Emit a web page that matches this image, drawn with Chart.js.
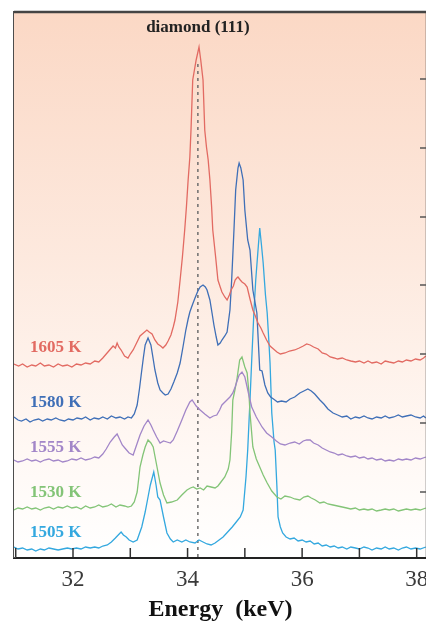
<!DOCTYPE html>
<html>
<head>
<meta charset="utf-8">
<script src="https://cdn.jsdelivr.net/npm/chart.js@4.4.1/dist/chart.umd.min.js"></script>
<style>
  html, body { margin: 0; padding: 0; background: #ffffff; overflow: hidden; }
  #wrap { width: 426px; height: 624px; overflow: hidden; position: relative; }
  canvas { display: block; }
</style>
</head>
<body>
<div id="wrap"><canvas id="c" width="440" height="624" style="width:440px;height:624px"></canvas></div>
<script>
// ---- Data: [energy keV, intensity (offset, arb. units)] ----
const s1605 = [[30.97,193],[31.05,191],[31.12,193],[31.2,190],[31.28,192],[31.35,191],[31.43,194],[31.5,191],[31.58,192],[31.66,190],[31.74,193],[31.82,191],[31.9,192],[31.98,190],[32.06,193],[32.14,192],[32.22,194],[32.3,193],[32.38,196],[32.45,195],[32.52,199],[32.58,203],[32.64,207],[32.7,211],[32.74,209],[32.77,214],[32.8,210],[32.84,207],[32.9,201],[32.96,199],[33.0,203],[33.05,207],[33.11,214],[33.17,221],[33.23,224],[33.29,227],[33.33,225],[33.38,223],[33.43,217],[33.48,213],[33.53,211],[33.57,209],[33.62,212],[33.66,216],[33.71,222],[33.75,230],[33.78,237],[33.83,255],[33.87,277],[33.91,300],[33.95,327],[33.98,350],[34.01,377],[34.04,400],[34.06,427],[34.09,477],[34.15,497],[34.20,510],[34.23,497],[34.27,477],[34.30,427],[34.33,410],[34.36,397],[34.39,377],[34.42,350],[34.44,327],[34.49,300],[34.53,277],[34.57,270],[34.60,265],[34.65,260],[34.69,257],[34.73,262],[34.76,267],[34.80,271],[34.83,277],[34.86,279],[34.88,280],[34.92,277],[34.95,275],[35.0,273],[35.04,270],[35.09,258],[35.14,247],[35.19,240],[35.23,234],[35.28,229],[35.32,224],[35.38,217],[35.44,211],[35.5,208],[35.56,205],[35.62,203],[35.7,204],[35.78,206],[35.87,207],[35.95,209],[36.02,211],[36.08,213],[36.14,212],[36.2,210],[36.28,208],[36.35,204],[36.42,203],[36.49,200],[36.56,199],[36.62,198],[36.7,199],[36.78,197],[36.85,196],[36.93,195],[37.0,196],[37.08,194],[37.15,196],[37.22,194],[37.3,195],[37.38,193],[37.45,196],[37.52,195],[37.6,194],[37.68,196],[37.75,195],[37.82,197],[37.9,196],[37.98,198],[38.06,197],[38.12,199],[38.16,201]];

const s1580 = [[30.97,140],[31.04,137],[31.1,136],[31.18,138],[31.25,135],[31.32,137],[31.4,138],[31.47,136],[31.55,138],[31.62,137],[31.7,139],[31.77,137],[31.85,136],[31.92,138],[32.0,137],[32.07,139],[32.15,138],[32.22,140],[32.3,137],[32.37,139],[32.45,138],[32.52,140],[32.6,138],[32.67,141],[32.75,139],[32.82,140],[32.9,138],[32.96,140],[33.02,139],[33.07,143],[33.12,152],[33.16,168],[33.19,182],[33.23,200],[33.26,212],[33.31,219],[33.36,212],[33.4,198],[33.43,187],[33.48,174],[33.52,167],[33.57,164],[33.61,162],[33.66,163],[33.71,168],[33.76,175],[33.82,184],[33.87,194],[33.92,210],[33.97,227],[34.01,238],[34.04,245],[34.09,253],[34.13,259],[34.18,266],[34.22,270],[34.27,272],[34.31,270],[34.34,267],[34.39,257],[34.43,243],[34.46,232],[34.5,220],[34.53,212],[34.57,214],[34.60,217],[34.65,221],[34.69,225],[34.74,247],[34.77,277],[34.81,327],[34.84,367],[34.88,389],[34.90,394],[34.93,389],[34.97,377],[35.00,347],[35.05,317],[35.09,307],[35.14,267],[35.21,244],[35.26,187],[35.30,186],[35.35,172],[35.40,164],[35.45,160],[35.5,158],[35.57,155],[35.64,156],[35.72,155],[35.79,158],[35.87,160],[35.96,164],[36.03,166],[36.1,168],[36.16,166],[36.22,163],[36.31,157],[36.38,153],[36.45,148],[36.54,144],[36.62,142],[36.7,140],[36.78,141],[36.85,138],[36.93,140],[37.0,139],[37.08,141],[37.15,139],[37.22,138],[37.3,140],[37.38,139],[37.45,141],[37.52,139],[37.6,140],[37.68,142],[37.75,140],[37.82,141],[37.9,142],[37.98,140],[38.06,139],[38.12,141],[38.16,139]];

const s1555 = [[30.97,97],[31.04,95],[31.12,96],[31.2,98],[31.28,96],[31.35,97],[31.43,95],[31.5,97],[31.58,98],[31.66,96],[31.74,97],[31.82,95],[31.9,96],[31.98,98],[32.06,97],[32.14,99],[32.22,97],[32.3,98],[32.38,100],[32.45,99],[32.52,103],[32.58,108],[32.65,115],[32.72,120],[32.77,123],[32.82,117],[32.86,112],[32.92,108],[32.98,104],[33.05,102],[33.11,112],[33.17,122],[33.24,131],[33.31,137],[33.36,132],[33.40,127],[33.46,120],[33.52,114],[33.58,116],[33.64,115],[33.7,114],[33.75,117],[33.82,126],[33.90,137],[33.97,147],[34.04,155],[34.08,157],[34.15,151],[34.22,147],[34.3,143],[34.39,139],[34.45,141],[34.51,142],[34.56,147],[34.60,152],[34.67,156],[34.74,160],[34.79,164],[34.83,170],[34.87,177],[34.90,182],[34.95,185],[35.0,180],[35.02,175],[35.07,162],[35.12,150],[35.2,140],[35.30,130],[35.38,124],[35.47,120],[35.55,116],[35.62,113],[35.7,112],[35.79,114],[35.87,115],[35.95,113],[36.02,116],[36.08,117],[36.14,117],[36.2,114],[36.28,112],[36.35,109],[36.42,107],[36.49,105],[36.56,104],[36.63,102],[36.7,103],[36.78,101],[36.85,100],[36.93,101],[37.0,99],[37.08,100],[37.15,98],[37.22,99],[37.3,97],[37.38,98],[37.45,96],[37.52,97],[37.6,96],[37.68,98],[37.75,97],[37.82,98],[37.9,97],[37.98,99],[38.06,98],[38.16,100]];

const s1530 = [[30.97,47],[31.04,49],[31.12,48],[31.2,50],[31.28,48],[31.35,49],[31.43,47],[31.5,49],[31.58,50],[31.66,48],[31.74,50],[31.82,49],[31.9,51],[31.98,49],[32.06,50],[32.14,48],[32.22,51],[32.3,49],[32.38,50],[32.45,52],[32.52,50],[32.6,51],[32.67,53],[32.75,50],[32.82,52],[32.9,51],[32.96,50],[33.02,51],[33.07,55],[33.12,65],[33.17,90],[33.22,102],[33.26,110],[33.31,117],[33.36,114],[33.40,110],[33.46,92],[33.52,74],[33.58,62],[33.64,54],[33.72,55],[33.82,57],[33.9,62],[33.99,67],[34.05,69],[34.1,70],[34.16,68],[34.22,69],[34.28,67],[34.34,71],[34.41,70],[34.48,69],[34.53,71],[34.57,74],[34.65,80],[34.71,88],[34.74,97],[34.77,125],[34.79,157],[34.83,168],[34.86,177],[34.91,197],[34.95,200],[35.00,190],[35.04,184],[35.07,165],[35.09,144],[35.14,110],[35.2,98],[35.26,90],[35.32,82],[35.39,74],[35.47,66],[35.56,60],[35.63,58],[35.7,61],[35.79,60],[35.87,58],[35.96,57],[36.03,60],[36.1,61],[36.16,59],[36.23,57],[36.31,54],[36.38,55],[36.45,53],[36.54,52],[36.62,51],[36.7,50],[36.78,49],[36.85,48],[36.93,49],[37.0,47],[37.08,48],[37.15,47],[37.22,48],[37.3,46],[37.38,47],[37.45,48],[37.52,47],[37.6,48],[37.68,46],[37.75,47],[37.82,48],[37.9,47],[37.98,48],[38.06,47],[38.16,49]];

const s1505 = [[30.97,10],[31.04,8],[31.12,9],[31.2,7],[31.28,8],[31.35,6],[31.43,8],[31.5,7],[31.58,9],[31.66,8],[31.74,7],[31.82,8],[31.9,9],[31.98,8],[32.06,9],[32.14,8],[32.22,10],[32.3,9],[32.38,10],[32.45,9],[32.52,11],[32.6,12],[32.67,15],[32.74,19],[32.79,22],[32.84,25],[32.88,22],[32.93,20],[32.98,17],[33.05,15],[33.12,17],[33.2,30],[33.26,45],[33.31,60],[33.35,72],[33.41,85],[33.45,72],[33.48,60],[33.52,57],[33.58,40],[33.64,24],[33.7,18],[33.75,15],[33.82,17],[33.9,15],[33.97,17],[34.04,15],[34.13,14],[34.2,17],[34.27,15],[34.34,13],[34.41,12],[34.48,14],[34.55,17],[34.62,20],[34.7,25],[34.78,30],[34.85,35],[34.92,40],[34.97,47],[35.02,80],[35.05,107],[35.09,157],[35.12,197],[35.16,247],[35.19,277],[35.23,307],[35.26,329],[35.29,312],[35.32,294],[35.36,262],[35.39,244],[35.42,215],[35.44,194],[35.47,144],[35.51,115],[35.53,107],[35.56,70],[35.58,40],[35.62,30],[35.66,24],[35.72,20],[35.79,18],[35.86,19],[35.93,16],[36.0,17],[36.07,15],[36.14,16],[36.21,13],[36.28,14],[36.35,11],[36.42,12],[36.49,10],[36.56,11],[36.63,9],[36.7,10],[36.78,8],[36.85,10],[36.93,9],[37.0,8],[37.08,10],[37.15,9],[37.22,7],[37.3,9],[37.38,8],[37.45,10],[37.52,8],[37.6,9],[37.68,7],[37.75,9],[37.82,10],[37.9,8],[37.98,9],[38.06,8],[38.16,10]];

const seriesLabels = ["1605 K","1580 K","1555 K","1530 K","1505 K"];
const xTickLabels = [32, 34, 36, 38];
const peakEnergy = 34.18;           // diamond (111) reference line
const peakLineTop = 497;
const rightTickValues = [65,134,203,272,340,409,478];

// ---- styles ----
const colors = ["#e26a62","#3f6fb7","#a286c8","#83c477","#34a8df"];
const serif = "'Liberation Serif', 'Times New Roman', serif";

const seriesData = [s1605, s1580, s1555, s1530, s1505].map(s => s.map(p => ({x: p[0], y: p[1]})));

const datasets = seriesData.map((d, k) => ({
  label: seriesLabels[k],
  data: d,
  borderColor: colors[k],
  borderWidth: 1.3,
  pointRadius: 0,
  tension: 0,
  fill: false
}));
datasets.push({
  label: "diamond (111)",
  data: [{x: peakEnergy, y: 0}, {x: peakEnergy, y: peakLineTop}],
  borderColor: "#6e6e6e",
  borderWidth: 1.5,
  borderDash: [3, 4],
  pointRadius: 0,
  fill: false
});

// label placement in data units
const labelPos = [
  {x: 31.25, y: 209}, {x: 31.25, y: 154}, {x: 31.25, y: 109}, {x: 31.25, y: 64}, {x: 31.25, y: 24}
];

const decor = {
  id: "decor",
  beforeDatasetsDraw(chart) {
    const {ctx, chartArea: a} = chart;
    const g = ctx.createLinearGradient(0, a.top, 0, a.bottom);
    g.addColorStop(0, "#fbd8c5");
    g.addColorStop(0.45, "#fde9de");
    g.addColorStop(0.8, "#fff8f4");
    g.addColorStop(1, "#ffffff");
    ctx.save();
    ctx.fillStyle = g;
    ctx.fillRect(a.left, a.top, a.right - a.left, a.bottom - a.top);
    ctx.restore();
  },
  afterDatasetsDraw(chart) {
    const {ctx, chartArea: a, scales} = chart;
    const xs = scales.x, ys = scales.y;
    ctx.save();
    ctx.strokeStyle = "#444";
    ctx.lineWidth = 2.5;
    ctx.beginPath();
    ctx.moveTo(a.left, a.top);
    ctx.lineTo(a.right, a.top);
    ctx.lineTo(a.right, a.bottom);
    ctx.stroke();
    ctx.strokeStyle = "#333";
    ctx.lineWidth = 1.5;
    for (let v = 31; v <= 38; v++) {
      const px = xs.getPixelForValue(v);
      ctx.beginPath();
      ctx.moveTo(px, a.bottom);
      ctx.lineTo(px, a.bottom - 9);
      ctx.stroke();
    }
    ctx.strokeStyle = "#555";
    for (const v of rightTickValues) {
      const py = ys.getPixelForValue(v);
      ctx.beginPath();
      ctx.moveTo(a.right, py);
      ctx.lineTo(a.right - 7, py);
      ctx.stroke();
    }
    ctx.font = "bold 17px " + serif;
    ctx.textBaseline = "middle";
    ctx.textAlign = "left";
    labelPos.forEach((p, k) => {
      ctx.fillStyle = colors[k];
      ctx.fillText(seriesLabels[k], xs.getPixelForValue(p.x), ys.getPixelForValue(p.y));
    });
    ctx.font = "bold 17px " + serif;
    ctx.fillStyle = "#222";
    ctx.textAlign = "center";
    ctx.fillText("diamond (111)", xs.getPixelForValue(peakEnergy), ys.getPixelForValue(529));
    ctx.restore();
  }
};

new Chart(document.getElementById("c"), {
  type: "line",
  data: { datasets: datasets },
  options: {
    responsive: false,
    animation: false,
    events: [],
    layout: { padding: { left: 14, top: 12, right: 13, bottom: 0 } },
    plugins: { legend: { display: false }, tooltip: { enabled: false }, title: { display: false } },
    scales: {
      x: {
        type: "linear",
        position: "bottom",
        min: 30.97,
        max: 38.18,
        afterFit(s) { s.height = 67; },
        grid: { display: false, drawTicks: false },
        border: { display: true, color: "#222", width: 3 },
        ticks: {
          stepSize: 1,
          includeBounds: false,
          autoSkip: false,
          maxRotation: 0,
          padding: 9,
          color: "#3a3a3a",
          font: { family: serif, size: 23 },
          callback: (v) => xTickLabels.includes(v) ? String(v) : ""
        },
        title: {
          display: true,
          text: "Energy  (keV)",
          color: "#111",
          font: { family: serif, size: 24, weight: "bold" },
          padding: { top: 0, bottom: 0 }
        }
      },
      y: {
        type: "linear",
        position: "left",
        min: 0,
        max: 545,
        afterFit(s) { s.width = 0; },
        grid: { display: false, drawTicks: false },
        border: { display: true, color: "#4d4d4d", width: 3 },
        ticks: { display: false }
      }
    }
  },
  plugins: [decor]
});
</script>
</body>
</html>
